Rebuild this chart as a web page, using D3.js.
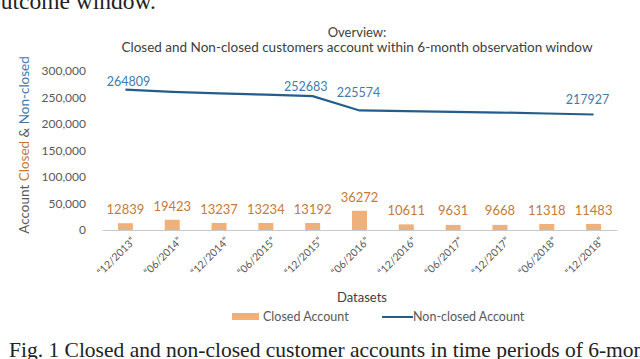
<!DOCTYPE html>
<html>
<head>
<meta charset="utf-8">
<script src="https://cdn.jsdelivr.net/npm/d3@7"></script>
<style>
  body { margin: 0; background: #fff; overflow: hidden; }
  svg { display: block; }
</style>
</head>
<body>
<svg width="640" height="359"></svg>
<script>
// periods (6-month windows)
const periods = ["12/2013", "06/2014", "12/2014", "06/2015", "12/2015", "06/2016",
  "12/2016", "06/2017", "12/2017", "06/2018", "12/2018"];
// closed accounts per period (bars)
const closed = [12839, 19423, 13237, 13234, 13192, 36272, 10611, 9631, 9668, 11318, 11483];
// non-closed accounts per period (line); unlabeled points
const nonClosed = [264809, 260500, 257800, 255500, 252683, 225574, 224200, 223000, 221600, 219800, 217927];
const nonClosedLabelled = [0, 4, 5, 10];
const yTicks = [0, 50000, 100000, 150000, 200000, 250000, 300000];

const orange = "#f0b07a", orangeText = "#c47a3c";
const blue = "#245d8c", blueText = "#3f7cac";
const grey = "#595959";
const font = "Lato, 'Open Sans', sans-serif";

const svg = d3.select("svg");

let x = d3.scaleBand().domain(periods).range([102, 617]).paddingInner(0.68).paddingOuter(0.34);
let y = d3.scaleLinear().domain([0, 300000]).range([230, 71]);

// text of the page around the figure (cut by the screenshot edges)
svg.append("text")
  .attr("x", -11).attr("y", 9)
  .attr("font-family", "'Liberation Serif', serif").attr("font-size", 23.5)
  .attr("fill", "#222")
  .text("outcome window.");

svg.append("text")
  .attr("x", 9).attr("y", 357)
  .attr("font-family", "'Liberation Serif', serif").attr("font-size", 21.5)
  .attr("fill", "#222")
  .text("Fig. 1 Closed and non-closed customer accounts in time periods of 6-month");

// titles
svg.append("text")
  .attr("x", 357).attr("y", 37)
  .attr("text-anchor", "middle")
  .attr("font-family", font).attr("font-size", 13)
  .attr("fill", "#404040")
  .text("Overview:");

svg.append("text")
  .attr("x", 357).attr("y", 51.5)
  .attr("text-anchor", "middle")
  .attr("font-family", font).attr("font-size", 13.5)
  .attr("fill", "#404040")
  .text("Closed and Non-closed customers account within 6-month observation window");

// y axis
let yAxis = svg.append("g")
  .attr("transform", "translate(90,0)")
  .call(d3.axisLeft(y).tickValues(yTicks).tickSize(0).tickPadding(4).tickFormat(d3.format(",")));
yAxis.select(".domain").remove();
yAxis.selectAll("text")
  .attr("font-family", font).attr("font-size", 12)
  .attr("fill", grey);

let yTitle = svg.append("text")
  .attr("transform", "translate(29,145) rotate(-90)")
  .attr("text-anchor", "middle")
  .attr("font-family", font).attr("font-size", 13.5);
yTitle.append("tspan").attr("fill", grey).text("Account ");
yTitle.append("tspan").attr("fill", orangeText).text("Closed");
yTitle.append("tspan").attr("fill", grey).text(" & ");
yTitle.append("tspan").attr("fill", blueText).text("Non-closed");

// bars
svg.append("g").selectAll("rect")
  .data(closed)
  .join("rect")
  .attr("x", (d, i) => x(periods[i]))
  .attr("y", d => y(d))
  .attr("width", x.bandwidth())
  .attr("height", d => y(0) - y(d))
  .attr("fill", orange);

svg.append("g").selectAll("text")
  .data(closed)
  .join("text")
  .attr("x", (d, i) => x(periods[i]) + x.bandwidth() / 2)
  .attr("y", d => Math.min(y(d) - 9, 215))
  .attr("text-anchor", "middle")
  .attr("font-family", font).attr("font-size", 13)
  .attr("fill", orangeText)
  .text(d => d);

// x axis
let xAxis = svg.append("g")
  .attr("transform", "translate(0,230)")
  .call(d3.axisBottom(x).tickSize(0).tickSizeOuter(0).tickFormat(d => "\u201c" + d + "\u201d"));
xAxis.select(".domain").attr("stroke", "#c8c8c8").attr("stroke-width", 1.2);
xAxis.selectAll("text")
  .attr("font-family", font).attr("font-size", 10.5)
  .attr("fill", grey)
  .attr("text-anchor", "end")
  .attr("transform", "translate(8,9) rotate(-45)")
  .attr("dy", "0.35em").attr("y", 0);

svg.append("text")
  .attr("x", 362).attr("y", 302)
  .attr("text-anchor", "middle")
  .attr("font-family", font).attr("font-size", 13)
  .attr("fill", "#404040")
  .text("Datasets");

// line
let cx = i => x(periods[i]) + x.bandwidth() / 2;
svg.append("path")
  .datum(nonClosed)
  .attr("fill", "none")
  .attr("stroke", blue)
  .attr("stroke-width", 2.2)
  .attr("d", d3.line().x((d, i) => cx(i)).y(d => y(d)));

// the chart's labels were nudged by hand; offsets from each point
const labelDx = { 0: 3, 4: -7, 5: -1, 10: -6 };
const labelDy = { 0: -4, 4: -5, 5: -13, 10: -10 };
svg.append("g").selectAll("text")
  .data(nonClosedLabelled)
  .join("text")
  .attr("x", i => cx(i) + labelDx[i])
  .attr("y", i => y(nonClosed[i]) + labelDy[i])
  .attr("text-anchor", "middle")
  .attr("font-family", font).attr("font-size", 12.5)
  .attr("fill", blueText)
  .text(i => nonClosed[i]);

// legend
let legend = svg.append("g").attr("font-family", font).attr("font-size", 12.5).attr("fill", grey);
legend.append("rect").attr("x", 232).attr("y", 313).attr("width", 27).attr("height", 7).attr("fill", orange);
legend.append("text").attr("x", 263).attr("y", 321).text("Closed Account");
legend.append("line").attr("x1", 382).attr("x2", 413).attr("y1", 317).attr("y2", 317)
  .attr("stroke", blue).attr("stroke-width", 2);
legend.append("text").attr("x", 413).attr("y", 321).text("Non-closed Account");
</script>
</body>
</html>
